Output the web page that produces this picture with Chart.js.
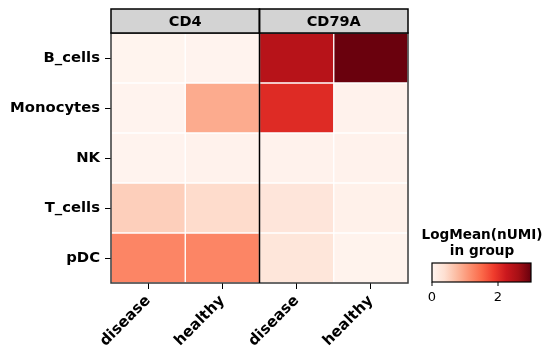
<!DOCTYPE html>
<html>
<head>
<meta charset="utf-8">
<script src="https://cdn.jsdelivr.net/npm/chart.js@4/dist/chart.umd.min.js"></script>
<style>
  html, body { margin: 0; padding: 0; background: #fff; }
  #wrap { width: 553px; height: 358px; }
</style>
</head>
<body>
<div id="wrap"><canvas id="grafico" width="553" height="358"></canvas></div>
<script>
// dados (LogMean(nUMI) por grupo)
const genes = ['CD4', 'CD79A'];
const grupos = ['disease', 'healthy'];
const tiposCelula = ['B_cells', 'Monocytes', 'NK', 'T_cells', 'pDC'];
const cd4Disease   = [0.02, 0.03, 0.03, 0.55, 1.25];
const cd4Healthy   = [0.03, 0.90, 0.05, 0.42, 1.25];
const cd79aDisease = [2.45, 2.05, 0.05, 0.28, 0.27];
const cd79aHealthy = [2.98, 0.05, 0.05, 0.08, 0.04];
const vmax = 3;
const ticksBarra = [0, 2];
const tituloBarra = ['LogMean(nUMI)', 'in group'];

const colunas = [cd4Disease, cd4Healthy, cd79aDisease, cd79aHealthy];
const rotulosX = [];
genes.forEach(() => grupos.forEach(g => rotulosX.push(g)));

// colormap "Reds" do matplotlib
const reds = ['#fff5f0', '#fee0d2', '#fcbba1', '#fc9272', '#fb6a4a', '#ef3b2c', '#cb181d', '#a50f15', '#67000d'];
function hexRgb(h) {
    return [parseInt(h.slice(1, 3), 16), parseInt(h.slice(3, 5), 16), parseInt(h.slice(5, 7), 16)];
}
function corReds(t) {
    t = Math.max(0, Math.min(1, t));
    const p = t * (reds.length - 1);
    const i = Math.min(Math.floor(p), reds.length - 2);
    const f = p - i;
    const a = hexRgb(reds[i]), b = hexRgb(reds[i + 1]);
    const c = a.map((v, k) => Math.round(v + (b[k] - v) * f));
    return `rgb(${c[0]},${c[1]},${c[2]})`;
}

const fonte = 'DejaVu Sans';

const datasets = colunas.map((vals, i) => ({
    data: tiposCelula.map(() => [i, i + 1]),
    backgroundColor: vals.map(v => corReds(v / vmax)),
    borderColor: '#ffffff',
    borderWidth: 1,
    borderSkipped: false,
    grouped: false,
    barPercentage: 1,
    categoryPercentage: 1
}));

// cabeçalhos, moldura e barra de cores
const extras = {
    id: 'extras',
    afterDraw(chart) {
        const ctx = chart.ctx;
        const a = chart.chartArea;
        const x = chart.scales.x;
        ctx.save();
        // moldura
        ctx.strokeStyle = '#3a3a3a';
        ctx.lineWidth = 1.5;
        ctx.strokeRect(a.left, a.top, a.right - a.left, a.bottom - a.top);
        // divisão entre genes + cabeçalhos
        const topoCab = 9;
        genes.forEach((g, gi) => {
            const x0 = x.getPixelForValue(gi * grupos.length);
            const x1 = x.getPixelForValue((gi + 1) * grupos.length);
            ctx.fillStyle = '#d3d3d3';
            ctx.fillRect(x0, topoCab, x1 - x0, a.top - topoCab);
            ctx.strokeStyle = '#000';
            ctx.lineWidth = 1.5;
            ctx.strokeRect(x0, topoCab, x1 - x0, a.top - topoCab);
            ctx.fillStyle = '#000';
            ctx.font = `bold 14.5px "${fonte}"`;
            ctx.textAlign = 'center';
            ctx.textBaseline = 'middle';
            ctx.fillText(g, (x0 + x1) / 2, (topoCab + a.top) / 2 + 1);
            if (gi > 0) {
                ctx.beginPath();
                ctx.moveTo(x0, topoCab);
                ctx.lineTo(x0, a.bottom);
                ctx.stroke();
            }
        });
        // barra de cores
        const bx = 432, by = 263, bw = 99, bh = 19;
        const grad = ctx.createLinearGradient(bx, 0, bx + bw, 0);
        reds.forEach((c, i) => grad.addColorStop(i / (reds.length - 1), c));
        ctx.fillStyle = grad;
        ctx.fillRect(bx, by, bw, bh);
        ctx.strokeStyle = '#000';
        ctx.lineWidth = 1.2;
        ctx.strokeRect(bx, by, bw, bh);
        ctx.fillStyle = '#000';
        ctx.font = `bold 13.6px "${fonte}"`;
        ctx.textAlign = 'center';
        ctx.textBaseline = 'alphabetic';
        ctx.fillText(tituloBarra[0], 482, 239);
        ctx.fillText(tituloBarra[1], 482, 255);
        ctx.font = `13px "${fonte}"`;
        ctx.textBaseline = 'top';
        ticksBarra.forEach(t => {
            const tx = bx + t / vmax * bw;
            ctx.beginPath();
            ctx.moveTo(tx, by + bh);
            ctx.lineTo(tx, by + bh + 4);
            ctx.lineWidth = 1;
            ctx.stroke();
            ctx.fillText(String(t), tx, by + bh + 9);
        });
        ctx.restore();
    }
};

new Chart(document.getElementById('grafico'), {
    type: 'bar',
    data: { labels: tiposCelula, datasets: datasets },
    options: {
        indexAxis: 'y',
        responsive: false,
        animation: false,
        devicePixelRatio: 1,
        layout: { padding: { left: 0, top: 33, right: 145, bottom: 0 } },
        plugins: { legend: { display: false }, tooltip: { enabled: false } },
        scales: {
            x: {
                type: 'linear',
                min: 0,
                max: rotulosX.length,
                afterBuildTicks(s) { s.ticks = rotulosX.map((_, i) => ({ value: i + 0.5 })); },
                afterFit(s) { s.height = 75; },
                border: { display: false },
                grid: { drawOnChartArea: false, tickLength: 6, color: '#000', tickWidth: 1 },
                ticks: {
                    autoSkip: false,
                    maxRotation: 45,
                    minRotation: 45,
                    padding: 3,
                    color: '#000',
                    font: { family: fonte, weight: 'bold', size: 15 },
                    callback: (v, i) => rotulosX[i]
                }
            },
            y: {
                afterFit(s) { s.width = 111; },
                border: { display: false },
                grid: { drawOnChartArea: false, offset: false, tickLength: 6, color: '#000', tickWidth: 1 },
                ticks: {
                    padding: 5,
                    color: '#000',
                    font: { family: fonte, weight: 'bold', size: 14.8 }
                }
            }
        }
    },
    plugins: [extras]
});
</script>
</body>
</html>
